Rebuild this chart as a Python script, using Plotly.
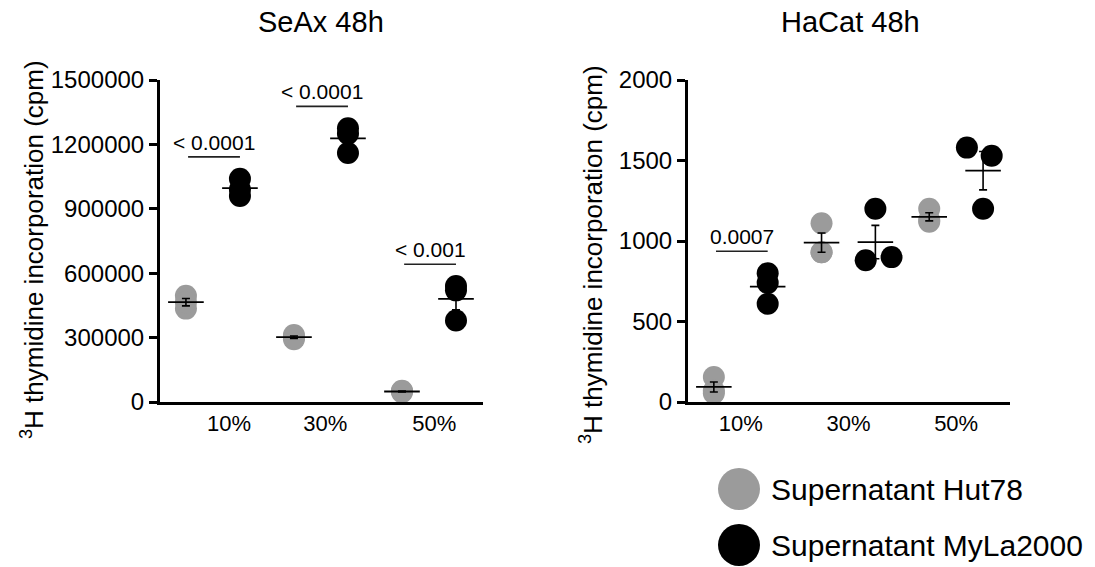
import numpy as np
import plotly.graph_objects as go

# ---------------- data ----------------
categories = ["10%", "30%", "50%"]

# SeAx 48h (cpm), three replicates per concentration
seax_hut78 = [[495000, 435000, 465000],
              [312000, 292000, 302000],
              [50000, 45000, 52000]]
seax_myla = [[1040000, 990000, 960000],
             [1275000, 1250000, 1160000],
             [540000, 520000, 380000]]

# HaCat 48h (cpm)
hacat_hut78 = [[155, 55, 70],
               [1110, 930, 930],
               [1200, 1120, 1130]]
hacat_myla = [[800, 740, 610],
              [1200, 880, 900],
              [1580, 1530, 1200]]
# horizontal scatter of overlapping replicates (group units)
hacat_myla_jitter = [[0, 0, 0],
                     [0, -0.09, 0.15],
                     [-0.15, 0.08, 0]]

seax_pvals = ["< 0.0001", "< 0.0001", "< 0.001"]
hacat_pvals = ["0.0007", None, None]

seax_yticks = [0, 300000, 600000, 900000, 1200000, 1500000]
hacat_yticks = [0, 500, 1000, 1500, 2000]

series_names = ["Supernatant Hut78", "Supernatant MyLa2000"]
GRAY = "#9b9b9b"
BLACK = "#000000"
FONT = "Liberation Sans, Arial, sans-serif"

W, H = 1095, 567
def px(x):
    return x / W
def py(y):
    return 1 - y / H

OFF = 0.25
HALF = 0.165

fig = go.Figure()


def add_panel(xa, ya, gray, black, black_jit):
    for vals, color, off, jit in [(gray, GRAY, -OFF, None), (black, BLACK, OFF, black_jit)]:
        xs, ys = [], []
        for g, v in enumerate(vals):
            for k, val in enumerate(v):
                j = jit[g][k] if jit is not None else 0
                xs.append(g + off + j)
                ys.append(val)
        fig.add_trace(go.Scatter(x=xs, y=ys, mode="markers", xaxis=xa, yaxis=ya,
                                 marker=dict(size=22, color=color, line=dict(width=0)),
                                 cliponaxis=False, showlegend=False, hoverinfo="y"))
    for vals, off in [(gray, -OFF), (black, OFF)]:
        means = [float(np.mean(v)) for v in vals]
        sems = [float(np.std(v, ddof=1) / np.sqrt(len(v))) for v in vals]
        lx, ly = [], []
        for g, m in enumerate(means):
            lx += [g + off - HALF, g + off + HALF, None]
            ly += [m, m, None]
        fig.add_trace(go.Scatter(x=lx, y=ly, mode="lines", xaxis=xa, yaxis=ya,
                                 line=dict(color="black", width=1.8),
                                 cliponaxis=False, showlegend=False, hoverinfo="skip"))
        fig.add_trace(go.Scatter(x=[g + off for g in range(len(means))], y=means,
                                 mode="markers", xaxis=xa, yaxis=ya,
                                 marker=dict(size=1, color="rgba(0,0,0,0)"),
                                 error_y=dict(type="data", array=sems, visible=True,
                                              color="black", thickness=1.6, width=4),
                                 cliponaxis=False, showlegend=False, hoverinfo="skip"))


add_panel("x", "y", seax_hut78, seax_myla, None)
add_panel("x2", "y2", hacat_hut78, hacat_myla, hacat_myla_jitter)

# significance brackets
def add_brackets(xa, ya, gray, black, pvals, ymax):
    for g, p in enumerate(pvals):
        if p is None:
            continue
        top = max(max(gray[g]), max(black[g])) + 0.068 * ymax
        fig.add_trace(go.Scatter(x=[g - 0.23, g + 0.25], y=[top, top], mode="lines",
                                 xaxis=xa, yaxis=ya, line=dict(color="#222222", width=1.6),
                                 cliponaxis=False, showlegend=False, hoverinfo="skip"))
        fig.add_annotation(x=g + 0.01, y=top, xref=xa, yref=ya, text=p, showarrow=False,
                           yanchor="bottom", yshift=1,
                           font=dict(size=21, color="black", family=FONT))

add_brackets("x", "y", seax_hut78, seax_myla, seax_pvals, 1500000)
add_brackets("x2", "y2", hacat_hut78, hacat_myla, hacat_pvals, 2000)

ydom = [py(402), py(80)]
xrange = [-0.49, 2.5]

axis_common = dict(showline=True, linecolor="black", linewidth=3, showgrid=False,
                   zeroline=False, mirror=False, automargin=False)
fig.update_layout(
    width=W, height=H, margin=dict(l=0, r=0, t=0, b=0, pad=0, autoexpand=False),
    paper_bgcolor="white", plot_bgcolor="white", showlegend=False,
    font=dict(family=FONT, color="black"),
    xaxis=dict(domain=[px(160), px(483)], range=xrange, ticks="",
               tickvals=[0.15, 1.04, 2.05], ticktext=categories,
               tickfont=dict(size=22), anchor="y", **axis_common),
    yaxis=dict(domain=ydom, range=[0, 1500000], ticks="outside", ticklen=8, tickwidth=2.5,
               tickcolor="black", tickvals=seax_yticks,
               ticktext=[str(v) for v in seax_yticks],
               tickfont=dict(size=24), anchor="x", **axis_common),
    xaxis2=dict(domain=[px(688), px(1010)], range=xrange, ticks="",
                tickvals=[0, 1, 2], ticktext=categories,
                tickfont=dict(size=22), anchor="y2", **axis_common),
    yaxis2=dict(domain=ydom, range=[0, 2000], ticks="outside", ticklen=8, tickwidth=2.5,
                tickcolor="black", tickvals=hacat_yticks,
                ticktext=[str(v) for v in hacat_yticks],
                tickfont=dict(size=24), anchor="x2", **axis_common),
)

# titles
fig.add_annotation(x=px(321), y=py(22), xref="paper", yref="paper", text="SeAx 48h",
                   showarrow=False, font=dict(size=29), xanchor="center", yanchor="middle")
fig.add_annotation(x=px(850), y=py(22), xref="paper", yref="paper", text="HaCat 48h",
                   showarrow=False, font=dict(size=29), xanchor="center", yanchor="middle")

ytitle = "<sup>3</sup>H thymidine incorporation (cpm)"
fig.add_annotation(x=px(32), y=py(250), xref="paper", yref="paper", text=ytitle,
                   showarrow=False, textangle=-90, font=dict(size=26),
                   xanchor="center", yanchor="middle")
fig.add_annotation(x=px(591), y=py(255), xref="paper", yref="paper", text=ytitle,
                   showarrow=False, textangle=-90, font=dict(size=26),
                   xanchor="center", yanchor="middle")

# legend
for i, (name, color) in enumerate(zip(series_names, [GRAY, BLACK])):
    cy = 489 + 56 * i
    fig.add_shape(type="circle", xref="paper", yref="paper",
                  x0=px(718), x1=px(760), y0=py(cy + 21), y1=py(cy - 21),
                  fillcolor=color, line=dict(width=0))
    fig.add_annotation(x=px(769), y=py(cy), xref="paper", yref="paper", text=name,
                       showarrow=False, font=dict(size=30), xanchor="left", yanchor="middle")

fig.write_html("out.html")
